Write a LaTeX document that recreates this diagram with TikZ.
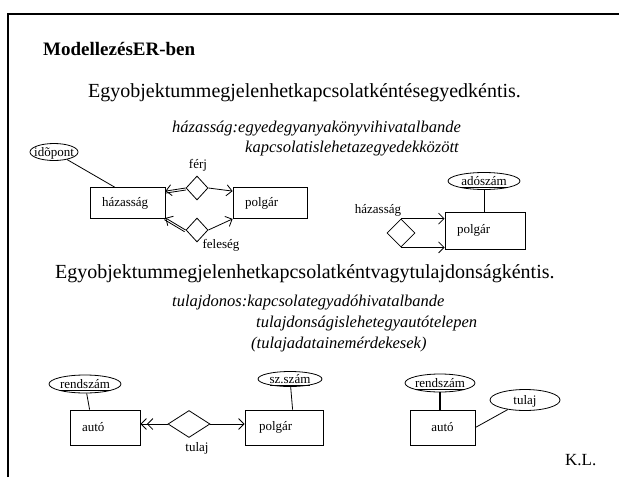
\documentclass[tikz,border=0pt]{standalone}
\usepackage{fontspec}
\setmainfont{Liberation Serif}
\usetikzlibrary{shapes.geometric,arrows.meta,calc}
% text of zero size, so an ellipse takes exactly its minimum width and height
\newcommand{\ellipsetext}[1]{\makebox[0pt]{\raisebox{-0.33em}[0pt][0pt]{#1}}}
\begin{document}
\begin{tikzpicture}[x=1pt,y=-1pt,
  every node/.style={inner sep=0pt},
  lbl/.style={font=\fontsize{13}{15}\selectfont},
  entity/.style={draw, line width=0.8pt, inner xsep=12pt, inner ysep=0pt, align=left,
                 font=\fontsize{13}{15}\selectfont},
  attr/.style={draw, ellipse, line width=0.8pt, inner sep=0pt,
               font=\fontsize{13}{15}\selectfont},
  rel/.style={draw, diamond, line width=0.8pt, inner sep=0pt},
  conn/.style={line width=0.8pt},
  barb/.style={-{Straight Barb[length=5.5pt,width=11pt]}},
  bigtext/.style={anchor=base west, font=\fontsize{20}{24}\selectfont},
  note/.style={anchor=base west, font=\itshape\fontsize{16.5}{20}\selectfont},
]
\useasboundingbox (0,0) rectangle (619,477);
% slide frame
\draw[line width=1.3pt] (8,477) -- (8,14) -- (619,14);

% headings
\node[anchor=base west, font=\bfseries\fontsize{19}{22}\selectfont] (title) at (43,55) {ModellezésER-ben};
\node[bigtext] (s1) at (88,97) {Egyobjektummegjelenhetkapcsolatkéntésegyedkéntis.};
\node[note] (n1a) at (172,132) {házasság:egyedegyanyakönyvihivatalbande};
\node[note] (n1b) at (245,152) {kapcsolatislehetazegyedekközött};

% marriage as an entity
\node[entity, text width=51pt, minimum height=31pt] (hz) at (127.5,203) {házasság};
\node[entity, text width=50pt, minimum height=31pt] (pg1) at (270,203) {polgár};
\node[attr, minimum width=48pt, minimum height=17pt] (ip) at (54,152) {\ellipsetext{idõpont}};
\node[rel, minimum width=22pt, minimum height=24pt] (rf) at (197,188) {};
\node[rel, minimum width=22pt, minimum height=24pt] (rs) at (197,230) {};
\node[lbl] (lf) at (198,165) {férj};
\node[lbl] (ls) at (221,245) {feleség};
\draw[conn] (ip) -- ($(hz.north west)+(25,0)$);

\coordinate (hzf) at ($(hz.north east)+(0,4)$);
\coordinate (hzs) at ($(hz.south east)+(0,-1)$);
\coordinate (pgf) at ($(pg1.north west)+(0,4)$);
\coordinate (pgs) at (pg1.south west);
\draw[conn, barb] (rf.west) -- (hzf);
\draw[conn] ($(rf.west)!2pt!90:(hzf)$) -- ($(hzf)!2pt!-90:(rf.west)$);
\draw[conn, barb] (rf.east) -- (pgf);
\draw[conn, barb] (rs.west) -- (hzs);
\draw[conn] ($(rs.west)!2pt!90:(hzs)$) -- ($(hzs)!2pt!-90:(rs.west)$);
\draw[conn, barb] (rs.east) -- (pgs);

% marriage as a relationship
\node[entity, text width=56pt, minimum height=37pt] (pg2) at (485,230.5) {polgár};
\node[attr, minimum width=72pt, minimum height=17pt] (ad) at (484,181) {\ellipsetext{\underline{adószám}}};
\draw[conn] (ad) -- (ad.south |- pg2.north);
\node[rel, minimum width=28pt, minimum height=28pt] (rh) at (401,233) {};
\node[lbl] (lh) at (378,210) {házasság};
\draw[conn, barb] (rh.north) -- (rh.north -| pg2.west);
\draw[conn, barb] (rh.south) -- (rh.south -| pg2.west);

% second heading
\node[bigtext] (s2) at (55,278) {Egyobjektummegjelenhetkapcsolatkéntvagytulajdonságkéntis.};
\node[note] (t1) at (172,306) {tulajdonos:kapcsolategyadóhivatalbande};
\node[note] (t2) at (256,327) {tulajdonságislehetegyautótelepen};
\node[note] (t3) at (251,348) {(tulajadatainemérdekesek)};

% owner as a relationship
\node[entity, text width=46pt, minimum height=35pt] (au1) at (105,427.5) {autó};
\node[entity, inner xsep=14pt, text width=50pt, minimum height=35pt] (pg3) at (284,427.5) {polgár};
\node[attr, minimum width=72pt, minimum height=18pt] (rsz1) at (85,384) {\ellipsetext{\underline{rendszám}}};
\node[attr, minimum width=64pt, minimum height=15pt] (szs) at (290,379) {\ellipsetext{\underline{sz.szám}}};
\node[rel, minimum width=42pt, minimum height=27pt] (rt) at (189,424) {};
\node[lbl] (lt) at (197,448) {tulaj};
\draw[conn] (rsz1) -- ($(au1.north west)+(20,0)$);
\draw[conn] (szs) -- ($(pg3.north west)+(48,0)$);
\draw[conn, {Straight Barb[length=5.5pt,width=11pt]Straight Barb[length=5.5pt,width=11pt]}-] (au1.east |- rt.west) -- (rt.west);
\draw[conn, barb] (rt.east) -- (rt.east -| pg3.west);

% owner as an attribute
\node[entity, align=center, text width=41pt, minimum height=35pt] (au2) at (442.5,427.5) {autó};
\node[attr, minimum width=70pt, minimum height=18pt] (rsz2) at (440,383) {\ellipsetext{\underline{rendszám}}};
\node[attr, minimum width=70pt, minimum height=21pt] (tl) at (525,400) {\ellipsetext{tulaj}};
\draw[line width=1.6pt] (rsz2) -- (rsz2.south |- au2.north);
\draw[conn] (au2.east) -- (tl);

\node[anchor=base west, font=\fontsize{17}{20}\selectfont] (kl) at (565,465) {K.L.};
\end{tikzpicture}
\end{document}
